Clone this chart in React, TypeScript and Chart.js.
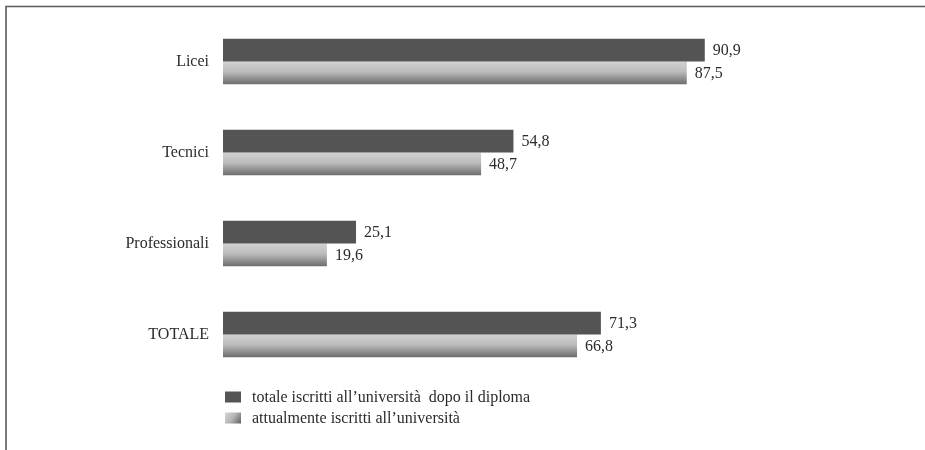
import React, { useEffect, useRef } from "react";
import { Chart, registerables } from "chart.js";

Chart.register(...registerables);

const categories = ["Licei", "Tecnici", "Professionali", "TOTALE"];
const totaleIscritti = [90.9, 54.8, 25.1, 71.3];
const attualmenteIscritti = [87.5, 48.7, 19.6, 66.8];
const seriesLabels = [
  "totale iscritti all\u2019universit\u00e0  dopo il diploma",
  "attualmente iscritti all\u2019universit\u00e0",
];

const FONT = '"Liberation Serif", "Times New Roman", serif';
const TEXT = "#2b2b2b";
const DARK = "#545454";

function makeBarGradient(ctx: CanvasRenderingContext2D, top: number, bottom: number) {
  const g = ctx.createLinearGradient(0, top, 0, bottom);
  g.addColorStop(0, "#d2d2d2");
  g.addColorStop(0.45, "#bcbcbc");
  g.addColorStop(1, "#6c6c6c");
  return g;
}

const gradientPlugin = {
  id: "gradientBars",
  afterDatasetsUpdate(chart: any) {
    const meta = chart.getDatasetMeta(1);
    const ctx = chart.ctx;
    meta.data.forEach((el: any) => {
      const { y, height } = el.getProps(["y", "height"], true);
      const g = makeBarGradient(ctx, y - height / 2, y + height / 2);
      el.options = { ...el.options, backgroundColor: g };
    });
  },
};

const labelsPlugin = {
  id: "valueLabels",
  afterDatasetsDraw(chart: any) {
    const ctx = chart.ctx;
    ctx.save();
    ctx.font = `16px ${FONT}`;
    ctx.fillStyle = TEXT;
    ctx.textAlign = "left";
    ctx.textBaseline = "middle";
    chart.data.datasets.forEach((ds: any, di: number) => {
      const meta = chart.getDatasetMeta(di);
      meta.data.forEach((el: any, i: number) => {
        const { x, y } = el.getProps(["x", "y"], true);
        const txt = String(ds.data[i].toFixed(1)).replace(".", ",");
        ctx.fillText(txt, x + 8, y + 1);
      });
    });
    ctx.restore();
  },
};

const framePlugin = {
  id: "frameAndLegend",
  afterDraw(chart: any) {
    const ctx = chart.ctx;
    const area = chart.chartArea;
    ctx.save();
    // frame
    ctx.strokeStyle = "#5a5a5a";
    ctx.lineWidth = 1.6;
    ctx.beginPath();
    ctx.moveTo(6, chart.height);
    ctx.lineTo(6, 6.5);
    ctx.lineTo(chart.width, 6.5);
    ctx.stroke();

    // legend
    const lx = area.left + 2;
    const rows = [397, 418];
    ctx.font = `16px ${FONT}`;
    ctx.fillStyle = TEXT;
    ctx.textBaseline = "middle";
    ctx.textAlign = "left";
    rows.forEach((ry, i) => {
      const sx = lx, sy = ry - 5.5, sw = 16, sh = 11;
      if (i === 0) {
        ctx.fillStyle = DARK;
      } else {
        const g = ctx.createLinearGradient(sx, sy, sx + sw, sy + sh);
        g.addColorStop(0, "#d6d6d6");
        g.addColorStop(0.5, "#b4b4b4");
        g.addColorStop(1, "#5e5e5e");
        ctx.fillStyle = g;
      }
      ctx.fillRect(sx, sy, sw, sh);
      ctx.fillStyle = TEXT;
      ctx.fillText(seriesLabels[i], lx + 27, ry + 1);
    });
    ctx.restore();
  },
};

export default function App() {
  const ref = useRef<HTMLCanvasElement>(null);
  useEffect(() => {
    document.body.style.margin = "0";
    const canvas = ref.current!;
    const chart = new Chart(canvas, {
      type: "bar",
      data: {
        labels: categories,
        datasets: [
          {
            label: seriesLabels[0],
            data: totaleIscritti,
            backgroundColor: DARK,
            borderWidth: 0,
            categoryPercentage: 0.5,
            barPercentage: 1.0,
          },
          {
            label: seriesLabels[1],
            data: attualmenteIscritti,
            backgroundColor: () => "#b0b0b0",
            borderWidth: 0,
            categoryPercentage: 0.5,
            barPercentage: 1.0,
          },
        ],
      },
      options: {
        indexAxis: "y",
        animation: false,
        responsive: false,
        devicePixelRatio: 1,
        layout: { padding: { left: 0, right: 172, top: 16, bottom: 70 } },
        plugins: {
          legend: { display: false },
          tooltip: { enabled: false },
        },
        scales: {
          x: {
            display: false,
            min: 0,
            max: 100,
          },
          y: {
            grid: { display: false, tickLength: 0 },
            border: { display: false },
            ticks: {
              color: TEXT,
              font: { family: FONT, size: 16 },
              padding: 14,
            },
            afterFit(scale: any) {
              scale.width = 223;
              scale.paddingTop = 0;
              scale.paddingBottom = 0;
            },
          },
        },
      },
      plugins: [gradientPlugin, labelsPlugin, framePlugin],
    } as any);
    return () => chart.destroy();
  }, []);
  return (
    <div style={{ width: 925, height: 450, background: "#fff" }}>
      <canvas ref={ref} width={925} height={450} style={{ display: "block" }} />
    </div>
  );
}
